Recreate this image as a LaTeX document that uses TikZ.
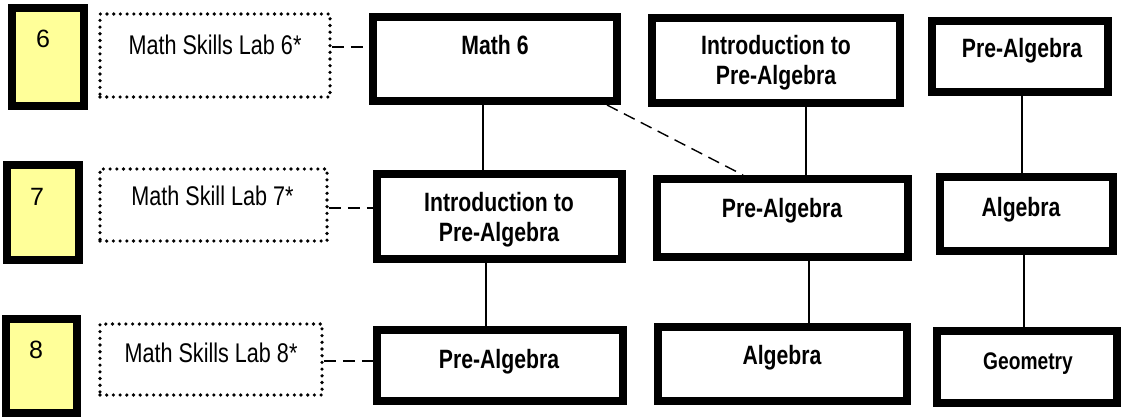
\documentclass[tikz,border=0pt]{standalone}
\usepackage{fontspec}
\setmainfont{Liberation Sans}
\newfontfamily\condfont[FakeStretch=0.8]{Liberation Sans}
\definecolor{gradeyellow}{RGB}{255,255,153}
\begin{document}
\begin{tikzpicture}[x=1pt,y=-1pt,
  gradebox/.style={draw=black, line width=8pt, fill=gradeyellow, inner sep=0pt},
  labbox/.style={draw=black, line width=3.6pt, dash pattern=on 0pt off 6.7pt, line cap=round, inner sep=0pt},
  coursebox/.style={draw=black, line width=8pt, inner sep=0pt},
  coursetext/.style={font=\condfont\bfseries\fontsize{26.5}{30}\selectfont, align=center, anchor=base, inner sep=0pt},
  labtext/.style={font=\condfont\fontsize{27}{30}\selectfont, anchor=base, inner sep=0pt},
  gradetext/.style={font=\fontsize{25}{28}\selectfont, anchor=base, inner sep=0pt},
  solidlink/.style={draw=black, line width=1.4pt},
  dashlink/.style={draw=black, line width=1.4pt, dash pattern=on 12pt off 7pt}
]
\useasboundingbox (0,0) rectangle (1123,417);

% grade boxes
\node[gradebox, minimum width=72pt, minimum height=98pt] (g6) at (48,57) {};
\node[gradebox, minimum width=72pt, minimum height=95pt] (g7) at (43,212.5) {};
\node[gradebox, minimum width=71pt, minimum height=94pt] (g8) at (41.5,366) {};
\node[gradetext] (g6t) at (43,48) {6};
\node[gradetext] (g7t) at (37,205) {7};
\node[gradetext] (g8t) at (36,358) {8};

% lab boxes
\node[labbox, minimum width=230pt, minimum height=83pt] (l6) at (215,55.5) {};
\node[labbox, minimum width=227pt, minimum height=72pt] (l7) at (213.5,205) {};
\node[labbox, minimum width=222pt, minimum height=71pt] (l8) at (211,359.5) {};
\node[labtext] (l6t) at (215,55) {Math Skills Lab 6*};
\node[labtext] (l7t) at (212.5,205) {Math Skill Lab 7*};
\node[labtext] (l8t) at (211,362) {Math Skills Lab 8*};

% course boxes
\node[coursebox, minimum width=244pt, minimum height=84pt] (m6) at (495,59) {};
\node[coursebox, minimum width=248pt, minimum height=85pt] (i2) at (776,60.5) {};
\node[coursebox, minimum width=176pt, minimum height=71pt] (p3) at (1020,56.5) {};
\node[coursebox, minimum width=245pt, minimum height=85pt] (i1) at (499.5,216.5) {};
\node[coursebox, minimum width=251pt, minimum height=78pt] (p2) at (782.5,218) {};
\node[coursebox, minimum width=173pt, minimum height=74pt] (a3) at (1026.5,214) {};
\node[coursebox, minimum width=246pt, minimum height=71pt] (p1) at (500,365.5) {};
\node[coursebox, minimum width=249pt, minimum height=74pt] (a2) at (782.5,364) {};
\node[coursebox, minimum width=180pt, minimum height=72pt] (g3) at (1027,367) {};

\node[coursetext] (m6t) at (495,55) {Math 6};
\node[coursetext] (i2t) at (776,85) {Introduction to\\Pre-Algebra};
\node[coursetext] (p3t) at (1022,58) {Pre-Algebra};
\node[coursetext] (i1t) at (499,241) {Introduction to\\Pre-Algebra};
\node[coursetext] (p2t) at (782,217) {Pre-Algebra};
\node[coursetext] (a3t) at (1021,216) {Algebra};
\node[coursetext] (p1t) at (499,368) {Pre-Algebra};
\node[coursetext] (a2t) at (782,364) {Algebra};
\node[coursetext, font=\condfont\bfseries\fontsize{24}{28}\selectfont] (g3t) at (1028,369) {Geometry};

% dashed lab connectors
\coordinate (d6) at ([yshift=8.5pt]l6.east);
\coordinate (d7) at ([yshift=-3pt]l7.east);
\coordinate (d8) at ([yshift=-1.5pt]l8.east);
\draw[dashlink] (d6) -- (d6 -| m6.west);
\draw[dashlink] (d7) -- (d7 -| i1.west);
\draw[dashlink] (d8) -- (d8 -| p1.west);

% vertical links
\coordinate (v1) at ([xshift=-12pt]m6.south);
\draw[solidlink] (v1) -- (v1 |- i1.north);
\coordinate (v2) at ([xshift=-13.5pt]i1.south);
\draw[solidlink] (v2) -- (v2 |- p1.north);
\coordinate (v3) at ([xshift=30pt]i2.south);
\draw[solidlink] (v3) -- (v3 |- p2.north);
\coordinate (v4) at ([xshift=26.5pt]p2.south);
\draw[solidlink] (v4) -- (v4 |- a2.north);
\coordinate (v5) at ([xshift=2pt]p3.south);
\draw[solidlink] (v5) -- (v5 |- a3.north);
\coordinate (v6) at ([xshift=-2.5pt]a3.south);
\draw[solidlink] (v6) -- (v6 |- g3.north);

% diagonal dashed link
\draw[dashlink] ([xshift=112pt]m6.south) -- ([xshift=-39.5pt]p2.north);
\end{tikzpicture}
\end{document}
